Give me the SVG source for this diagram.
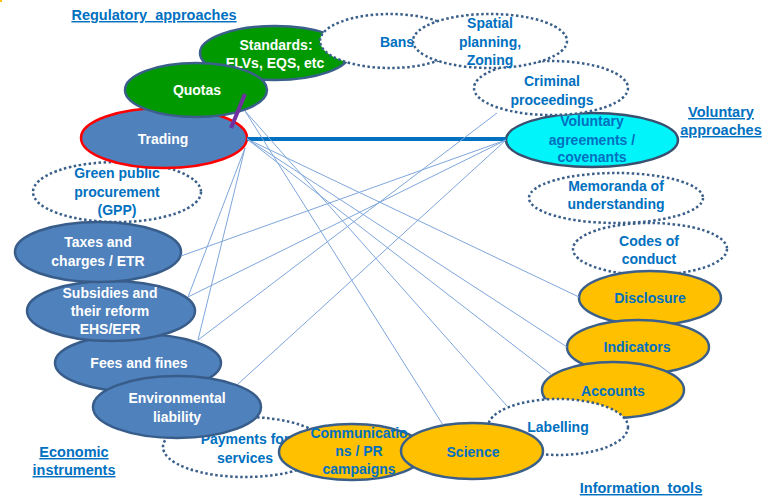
<svg xmlns="http://www.w3.org/2000/svg" width="763" height="498" viewBox="0 0 763 498">
<style>
text{font-family:"Liberation Sans",Arial,sans-serif;font-weight:bold;font-size:14px;text-anchor:middle}
.w{fill:#FFFFFF}
.b{fill:#0070C0}
.hd{fill:#0070C0;font-size:14.5px;text-decoration:underline}
.green{fill:#009A00;stroke:#3A5F8A;stroke-width:2.5}
.blue{fill:#4F81BD;stroke:#385D8A;stroke-width:2.5}
.yel{fill:#FFC000;stroke:#3A5F8A;stroke-width:2.5}
.cyan{fill:#00F4FA;stroke:#3A5070;stroke-width:2.5}
.dot{fill:#FFFFFF;stroke:#3A5F8A;stroke-width:2.5;stroke-dasharray:2.5 2.5}
.thin{stroke:#7EA6DA;stroke-width:1;fill:none}
</style>
<rect width="763" height="498" fill="#FFFFFF"/>
<rect x="0" y="0" width="2" height="2" fill="#FFC000"/>
<g id="label-regulatory"><text class="hd" x="154" y="20" xml:space="preserve">Regulatory  approaches</text></g>
<g id="label-voluntary"><text class="hd" x="721" y="117">Voluntary</text><text class="hd" x="721" y="135">approaches</text></g>
<g id="label-economic"><text class="hd" x="74" y="457">Economic</text><text class="hd" x="74" y="475">instruments</text></g>
<g id="label-information"><text class="hd" x="641" y="493" xml:space="preserve">Information  tools</text></g>

<g id="node-standards"><ellipse class="green" cx="275" cy="53" rx="75" ry="27"/><text class="w" x="276" y="50">Standards:</text><text class="w" x="275" y="68">FLVs, EQS, etc</text></g>
<g id="node-bans"><ellipse class="dot" cx="390" cy="41" rx="70" ry="27"/><text class="b" x="397" y="47">Bans</text></g>
<g id="node-voluntary-agreements"><ellipse class="cyan" cx="592" cy="140" rx="86" ry="27"/><text class="b" x="592" y="126">Voluntary</text><text class="b" x="592" y="145">agreements /</text><text class="b" x="592" y="162">covenants</text></g>
<g id="node-criminal"><ellipse class="dot" cx="551" cy="88" rx="77" ry="27"/><text class="b" x="552" y="86">Criminal</text><text class="b" x="552" y="105">proceedings</text></g>
<g id="node-spatial"><ellipse class="dot" cx="490" cy="41" rx="77" ry="27"/><text class="b" x="490" y="28">Spatial</text><text class="b" x="490" y="47">planning,</text><text class="b" x="490" y="65">Zoning</text></g>
<g id="node-gpp"><ellipse class="dot" cx="117" cy="192" rx="84" ry="30"/><text class="b" x="117" y="178">Green public</text><text class="b" x="117" y="197">procurement</text><text class="b" x="117" y="215">(GPP)</text></g>
<g id="node-trading"><ellipse cx="164" cy="138" rx="83" ry="30" fill="#4F81BD" stroke="#FF0000" stroke-width="2.5"/><text class="w" x="163" y="144">Trading</text></g>
<g id="node-quotas"><ellipse class="green" cx="196" cy="90" rx="71" ry="27"/><text class="w" x="197" y="95">Quotas</text></g>
<g id="node-fees"><ellipse class="blue" cx="138" cy="363" rx="83" ry="29"/><text class="w" x="139" y="368">Fees and fines</text></g>
<g id="node-subsidies"><ellipse class="blue" cx="111" cy="311" rx="84" ry="30"/><text class="w" x="110" y="298">Subsidies and</text><text class="w" x="110" y="316">their reform</text><text class="w" x="110" y="334">EHS/EFR</text></g>
<g id="node-taxes"><ellipse class="blue" cx="98" cy="252" rx="83" ry="30"/><text class="w" x="98" y="247">Taxes and</text><text class="w" x="98" y="266">charges / ETR</text></g>
<g id="node-payments"><ellipse class="dot" cx="245" cy="447" rx="82" ry="30"/><text class="b" x="245" y="444">Payments for</text><text class="b" x="245" y="463">services</text></g>
<g id="node-env"><ellipse class="blue" cx="177" cy="407" rx="84" ry="31"/><text class="w" x="177" y="403">Environmental</text><text class="w" x="177" y="422">liability</text></g>
<g id="node-comms"><ellipse class="yel" cx="352" cy="452" rx="73" ry="28"/><text class="b" x="359" y="438">Communicatio</text><text class="b" x="359" y="456">ns / PR</text><text class="b" x="359" y="474">campaigns</text></g>
<g id="node-codes"><ellipse class="dot" cx="650" cy="249" rx="77" ry="26"/><text class="b" x="649" y="246">Codes of</text><text class="b" x="649" y="264">conduct</text></g>
<g id="node-memoranda"><ellipse class="dot" cx="616" cy="198" rx="87" ry="25"/><text class="b" x="616" y="191">Memoranda of</text><text class="b" x="616" y="209">understanding</text></g>
<g id="node-disclosure"><ellipse class="yel" cx="650" cy="298" rx="71" ry="27"/><text class="b" x="650" y="303">Disclosure</text></g>
<g id="node-indicators"><ellipse class="yel" cx="638" cy="347" rx="71" ry="27"/><text class="b" x="637" y="352">Indicators</text></g>
<g id="node-accounts"><ellipse class="yel" cx="613" cy="390" rx="71" ry="28"/><text class="b" x="613" y="396">Accounts</text></g>
<g id="node-labelling"><ellipse class="dot" cx="558" cy="427" rx="70" ry="28"/><text class="b" x="558" y="432">Labelling</text></g>
<g id="node-science"><ellipse class="yel" cx="472" cy="451" rx="71" ry="28"/><text class="b" x="473" y="457">Science</text></g>

<g id="connectors">
<line x1="247" y1="139" x2="506" y2="139" stroke="#0070C0" stroke-width="4"/>
<line x1="245" y1="94" x2="231" y2="128" stroke="#7030A0" stroke-width="4"/>
<line class="thin" x1="245" y1="148" x2="188" y2="297"/>
<line class="thin" x1="245" y1="148" x2="198" y2="340"/>
<line class="thin" x1="181" y1="256" x2="506" y2="140"/>
<line class="thin" x1="188" y1="297" x2="506" y2="140"/>
<line class="thin" x1="198" y1="340" x2="497" y2="113"/>
<line class="thin" x1="238" y1="384" x2="506" y2="140"/>
<line class="thin" x1="245" y1="111" x2="443" y2="425"/>
<line class="thin" x1="245" y1="111" x2="507" y2="406"/>
<line class="thin" x1="247" y1="139" x2="552" y2="375"/>
<line class="thin" x1="247" y1="139" x2="567" y2="347"/>
<line class="thin" x1="247" y1="139" x2="579" y2="297"/>
</g>
</svg>
